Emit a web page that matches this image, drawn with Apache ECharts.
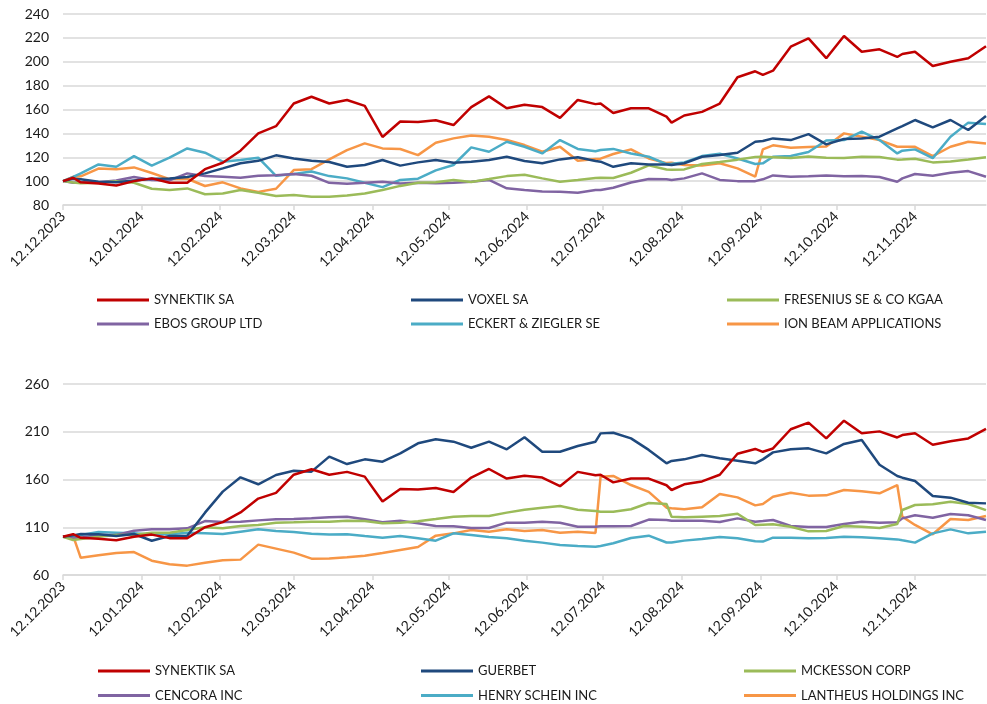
<!DOCTYPE html>
<html>
<head>
<meta charset="utf-8">
<script src="https://cdn.jsdelivr.net/npm/echarts@6/dist/echarts.min.js"></script>
<style>
  html, body { margin: 0; padding: 0; background: #fff; }
  #chart { width: 987px; height: 704px; }
</style>
</head>
<body>
<div id="chart"></div>
<script>
// sample dates (weekly, plus a few extra days around jumps)
const dates = [
  '2023-12-12', '2023-12-16', '2023-12-19', '2023-12-26', '2024-01-02', '2024-01-09', '2024-01-16', '2024-01-23',
  '2024-01-30', '2024-02-06', '2024-02-13', '2024-02-20', '2024-02-27', '2024-03-05', '2024-03-12', '2024-03-19',
  '2024-03-26', '2024-04-02', '2024-04-09', '2024-04-16', '2024-04-23', '2024-04-30', '2024-05-07', '2024-05-14',
  '2024-05-21', '2024-05-28', '2024-06-04', '2024-06-11', '2024-06-18', '2024-06-25', '2024-07-02', '2024-07-09',
  '2024-07-11', '2024-07-16', '2024-07-23', '2024-07-30', '2024-08-06', '2024-08-08', '2024-08-13', '2024-08-20',
  '2024-08-27', '2024-09-03', '2024-09-10', '2024-09-13', '2024-09-17', '2024-09-24', '2024-10-01', '2024-10-08',
  '2024-10-15', '2024-10-22', '2024-10-29', '2024-11-05', '2024-11-07', '2024-11-12', '2024-11-19', '2024-11-26',
  '2024-12-03', '2024-12-10'
];

// top panel
const synektik = [100, 102.8, 99, 98, 96.4, 100, 102.3, 98.6, 98.6, 110, 115.4, 125.5, 140, 146, 165, 170.7,
  165, 168, 163, 137, 150, 149.5, 151, 147, 162, 171, 161, 164, 162, 153, 168, 164.5,
  165, 157, 161, 161, 154, 149, 155, 158, 165, 187, 192, 189, 192.5, 212.6, 219.6, 203,
  221.6, 208.4, 210.4, 204, 206.5, 208.4, 196.4, 200, 203, 213];
const voxel = [100, 102, 101.5, 99.5, 99, 100.6, 102, 102.3, 103.4, 106.5, 110.7, 115, 117, 121.6, 119, 117,
  116, 112, 113.5, 117.7, 113, 115.7, 117.7, 115.4, 116.3, 117.7, 120.4, 116.8, 115, 118.2, 120, 116.8,
  116.3, 112, 115, 114, 114, 113.5, 115, 120.4, 121.8, 123.8, 133, 133.6, 135.8, 134.4, 139.4, 130.8,
  135.3, 135.8, 137.2, 144.2, 146.1, 151.2, 145, 151.2, 142.8, 154.5];
const fresenius = [100, 98.9, 98.3, 98.6, 100, 98.6, 93.6, 92.5, 93.9, 89, 89.7, 92.5, 90.3, 87.5, 88.3, 87,
  87, 88, 89.7, 92.5, 96, 98.6, 99, 101, 99.3, 101.7, 104.2, 105.4, 102.3, 99.5, 101, 102.6,
  102.8, 102.6, 107, 113.2, 109.8, 109.5, 109.8, 114.3, 116, 118, 120.2, 120.4, 120, 119.3, 120.7, 119.6,
  119.3, 120.4, 120.2, 118, 118.2, 118.8, 115.7, 116.5, 118.2, 120];
const ebos = [100, 98.6, 99, 99, 100.5, 103.4, 101, 100.6, 106.5, 104.2, 103.6, 102.8, 104.5, 105, 106, 104.5,
  98.6, 97.8, 98.6, 99.5, 98, 98.6, 98.3, 98.6, 99.5, 101, 94, 92.5, 91.4, 91.1, 90.3, 92.5,
  92.5, 94.4, 98.9, 101.7, 101.5, 101, 102.3, 106.5, 101, 100, 100, 101.5, 104.8, 103.6, 104, 104.8,
  104, 104.2, 103.4, 99.5, 102.3, 106, 104.5, 107, 108.4, 103.7];
const eckert = [100, 103.6, 106.5, 114, 112, 121, 113, 119.6, 127.4, 123.8, 116.3, 117.7, 119.6, 104.5, 106, 108,
  104.2, 102.3, 98.6, 95, 101, 102, 109, 113.5, 128.3, 124.6, 133, 128.8, 123.2, 134.4, 127, 125,
  126, 127, 123.2, 120.4, 114.3, 114.6, 115.7, 121, 123, 119, 114.3, 114.9, 120.4, 121, 124.4, 134,
  134.4, 141.4, 134.4, 123.2, 125.5, 126.6, 119.3, 137.2, 149, 147.8];
const ionBeam = [100, 103.6, 104, 110.5, 110, 111.5, 106.8, 101.7, 102, 95.9, 99, 93.9, 91, 93.6, 109.3, 110,
  118.2, 126, 131.6, 127.4, 126.9, 121.8, 132.2, 135.8, 138.3, 137.2, 134.4, 130.2, 124.6, 128.8, 117, 118.5,
  118.8, 122.7, 126.6, 119, 115.1, 115.4, 113.5, 113, 115, 110.7, 103.7, 126.6, 130, 128, 128.5, 129,
  140, 137.2, 134.4, 128.8, 128.8, 128.8, 121, 128.8, 133, 131.6];

// bottom panel
const guerbet = [100, 101.5, 102.9, 102.6, 100.8, 102.9, 95.9, 100.8, 101.2, 125.3, 147.3, 162.3, 155, 164.7, 169.2, 168.2,
  184, 176.2, 181.1, 178.7, 187.4, 197.9, 202.1, 199.6, 193.3, 199.6, 191.6, 204.2, 189.1, 189.1, 195.1, 199.6,
  208.3, 209, 203.1, 191, 176.9, 179.4, 181.1, 185.7, 182.2, 179.7, 176.9, 181.1, 188.4, 191.6, 192.6, 187.4,
  197.2, 201.4, 175.5, 163.7, 161.9, 158.4, 142.7, 141, 135.7, 135];
const mckesson = [100, 96.7, 97.7, 100.1, 101.9, 102.2, 104.3, 104.3, 107.1, 110, 108.9, 111.3, 112.4, 114.8, 115.2, 115.8,
  115.8, 116.9, 116.5, 114.1, 114.8, 116.2, 118.6, 121.1, 121.8, 121.8, 125.3, 128.4, 130.5, 132.3, 128.4, 127,
  126.3, 126.3, 128.8, 135.4, 134.4, 121, 120.4, 121.1, 121.8, 124.2, 112.4, 112.7, 113.1, 110.6, 105.7, 106.1,
  111.3, 110.6, 109.2, 113.4, 128.1, 133.3, 134, 136.8, 134.4, 128];
const cencora = [100, 98.3, 99, 101.9, 101.9, 106.4, 107.8, 107.8, 108.9, 116.5, 115.5, 115.8, 117.2, 118.3, 118.6, 119.3,
  120.4, 121.1, 118.3, 115.2, 116.9, 114.1, 111.3, 111, 109.2, 109.2, 114.8, 114.8, 115.8, 114.8, 110.6, 110.6,
  111, 111, 111.3, 118, 117.6, 116.9, 116.9, 116.9, 115.5, 119.3, 115.8, 116.5, 117.6, 111.3, 110.3, 110.3,
  113.4, 115.8, 114.8, 115.2, 119.3, 122.5, 120, 123.9, 122.5, 117.6];
const henrySchein = [100, 100.8, 101.9, 105, 104.3, 103.6, 102.2, 102.6, 104.3, 103.6, 102.9, 105.4, 107.8, 106.1, 105, 103.3,
  102.4, 102.6, 100.8, 99.1, 100.8, 98.4, 95.9, 103.6, 101.9, 99.8, 98.4, 95.9, 93.9, 91.4, 90.4, 89.7,
  90.4, 93.2, 98.7, 101.2, 94, 94, 96, 97.7, 99.8, 98.4, 95.3, 95, 99.1, 99.1, 98.4, 98.7,
  100.1, 99.4, 98.4, 97.3, 96.3, 93.9, 103.6, 107.8, 103.6, 105.4];
const lantheus = [100, 101, 78, 80.6, 83, 84, 75, 71.2, 69.8, 72.9, 75.4, 76.1, 91.8, 87.6, 83.4, 77.1,
  77.4, 78.5, 80.2, 83, 86.2, 89.3, 101.2, 103.6, 107.1, 105.4, 107.8, 106.1, 107.1, 104.3, 105.4, 104,
  163, 163.7, 154.2, 147, 130.5, 129.8, 128.8, 130.9, 144.8, 141.3, 132.9, 134.4, 142, 146.2, 143.1, 143.4,
  149, 147.6, 145.5, 154.2, 121.1, 112.4, 102.6, 118.6, 117.6, 121.8];

const topSeries = [
  { name: 'SYNEKTIK SA', data: synektik, color: '#C00000' },
  { name: 'VOXEL SA', data: voxel, color: '#1F497D' },
  { name: 'FRESENIUS SE & CO KGAA', data: fresenius, color: '#9BBB59' },
  { name: 'EBOS GROUP LTD', data: ebos, color: '#8064A2' },
  { name: 'ECKERT & ZIEGLER SE', data: eckert, color: '#4BACC6' },
  { name: 'ION BEAM APPLICATIONS', data: ionBeam, color: '#F79646' }
];
const bottomSeries = [
  { name: 'SYNEKTIK SA', data: synektik, color: '#C00000' },
  { name: 'GUERBET', data: guerbet, color: '#1F497D' },
  { name: 'MCKESSON CORP', data: mckesson, color: '#9BBB59' },
  { name: 'CENCORA INC', data: cencora, color: '#8064A2' },
  { name: 'HENRY SCHEIN INC', data: henrySchein, color: '#4BACC6' },
  { name: 'LANTHEUS HOLDINGS INC', data: lantheus, color: '#F79646' }
];

// every calendar day on the axis, labels on the 12th of each month
const DAY = 86400000;
const startDay = Date.UTC(2023, 11, 12);
const endDay = Date.UTC(2024, 11, 10);
const axisDays = [];
for (let t = startDay; t <= endDay; t += DAY) axisDays.push(new Date(t).toISOString().slice(0, 10));

const dayIndex = (s) => Math.round((Date.parse(s) - startDay) / DAY);
const toPairs = (values) => values.map((v, i) => [dayIndex(dates[i]), v]);
const isTwelfth = (idx, value) => value.slice(8) === '12';
const fmtDate = (value) => value.slice(8) + '.' + value.slice(5, 7) + '.' + value.slice(0, 4);

const FONT = 'Lato';
const GRID_COLOR = '#D9D9D9';

function xAxis(gridIndex) {
  return {
    type: 'category', gridIndex, data: axisDays, boundaryGap: false,
    axisLine: { lineStyle: { color: GRID_COLOR, width: 1.5 } },
    axisTick: { show: true, interval: isTwelfth, length: 5, lineStyle: { color: GRID_COLOR, width: 1.5 } },
    axisLabel: { interval: isTwelfth, rotate: 45, margin: 9, formatter: fmtDate,
      color: '#1a1a1a', fontSize: 14, fontFamily: FONT },
    splitLine: { show: false }
  };
}
function yAxis(gridIndex, min, max, interval) {
  return {
    type: 'value', gridIndex, min, max, interval,
    axisLine: { show: false }, axisTick: { show: false },
    axisLabel: { margin: 14, color: '#1a1a1a', fontSize: 14, fontFamily: FONT },
    splitLine: { lineStyle: { color: GRID_COLOR, width: 1.5 } }
  };
}

function makeSeries(list, axisIndex) {
  return list.map((s, i) => ({
    name: s.name, type: 'line', xAxisIndex: axisIndex, yAxisIndex: axisIndex,
    data: toPairs(s.data), showSymbol: false, symbol: 'none',
    lineStyle: { width: 2.5, color: s.color }, itemStyle: { color: s.color },
    z: 10 - i
  }));
}

function makeLegends(list, cols, rows) {
  return list.map((s, i) => ({
    data: [s.name], left: cols[i % 3], top: rows[Math.floor(i / 3)] - 7,
    icon: 'rect', itemWidth: 52, itemHeight: 3, padding: 0, selectedMode: false,
    textStyle: { fontSize: 13, fontFamily: FONT, color: '#1a1a1a' }
  }));
}

const chart = echarts.init(document.getElementById('chart'));
chart.setOption({
  animation: false,
  backgroundColor: '#fff',
  textStyle: { fontFamily: FONT },
  grid: [
    { left: 63, right: 1, top: 14, height: 191 },
    { left: 63, right: 1, top: 384, height: 191 }
  ],
  xAxis: [xAxis(0), xAxis(1)],
  yAxis: [yAxis(0, 80, 240, 20), yAxis(1, 60, 260, 50)],
  legend: makeLegends(topSeries, [97, 411, 727], [300.5, 324.5])
    .concat(makeLegends(bottomSeries, [98, 421, 744], [671.5, 696])),
  series: makeSeries(topSeries, 0).concat(makeSeries(bottomSeries, 1))
});
</script>
</body>
</html>
